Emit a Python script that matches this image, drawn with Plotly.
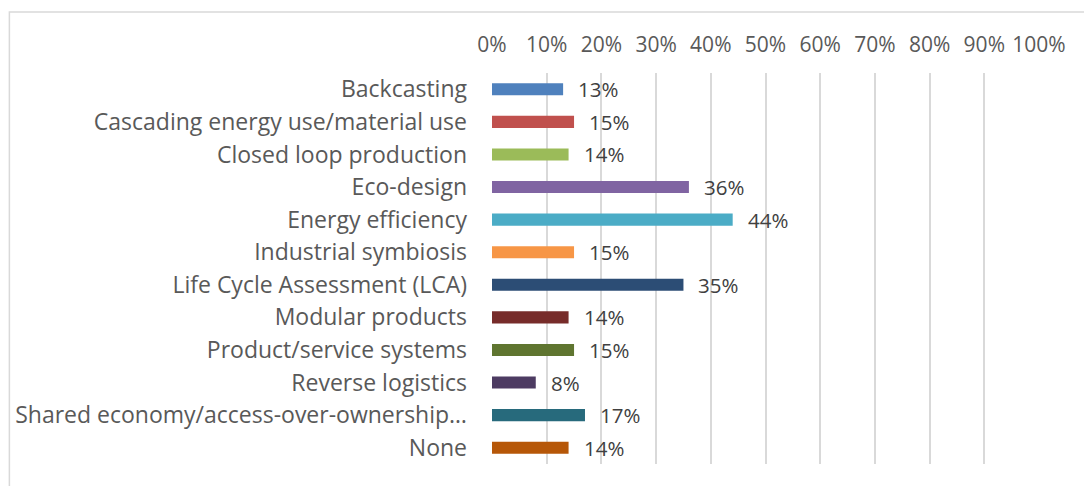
import plotly.graph_objects as go

# Share of respondents using each approach
categories = [
    "Backcasting",
    "Cascading energy use/material use",
    "Closed loop production",
    "Eco-design",
    "Energy efficiency",
    "Industrial symbiosis",
    "Life Cycle Assessment (LCA)",
    "Modular products",
    "Product/service systems",
    "Reverse logistics",
    "Shared economy/access-over-ownership…",
    "None",
]
percent_values = [13, 15, 14, 36, 44, 15, 35, 14, 15, 8, 17, 14]
bar_colors = [
    "#4F81BD", "#C0504D", "#9BBB59", "#8064A2", "#4BACC6", "#F79646",
    "#2C4D75", "#772C2A", "#5F7530", "#4D3B62", "#276A7C", "#B65708",
]
x_tick_values = [i / 10 for i in range(11)]
x_tick_labels = [f"{i * 10}%" for i in range(11)]

FONT = "Open Sans"
W, H = 1084, 486
ML, MR, MT, MB = 491.5, 44.5, 73, 22
plot_w = W - ML - MR
plot_h = H - MT - MB

fig = go.Figure(
    go.Bar(
        x=[v / 100 for v in percent_values],
        y=categories,
        orientation="h",
        marker=dict(color=bar_colors, line=dict(width=0)),
        hoverinfo="skip",
    )
)

# value labels just right of each bar end
for cat, v in zip(categories, percent_values):
    fig.add_annotation(
        x=v / 100, y=cat, text=f"{v}%", showarrow=False,
        xanchor="left", yanchor="middle", xshift=13, yshift=0,
        font=dict(family=FONT, size=20.5, color="#404040"),
    )

# outer chart frame (top and left edges visible)
fig.add_shape(
    type="rect", xref="paper", yref="paper",
    x0=(8 - ML) / plot_w, x1=(W + 40 - ML) / plot_w,
    y0=-(H + 40 - (H - MB)) / plot_h, y1=(H - MB - 12) / plot_h,
    line=dict(color="#D9D9D9", width=1.5), fillcolor="rgba(0,0,0,0)",
    layer="below",
)

fig.update_layout(
    width=W, height=H,
    margin=dict(l=ML, r=MR, t=MT, b=MB, pad=0),
    paper_bgcolor="white", plot_bgcolor="white",
    bargap=0.63,
    showlegend=False,
    xaxis=dict(
        side="top", range=[0, 1],
        tickvals=x_tick_values, ticktext=x_tick_labels,
        showgrid=True, gridcolor="#D9D9D9", gridwidth=1.5,
        zeroline=False, showline=False, ticks="",
        ticklabelstandoff=16,
        tickfont=dict(family=FONT, size=21, color="#595959"),
        fixedrange=True,
    ),
    yaxis=dict(
        autorange="reversed", showgrid=False, zeroline=False,
        showline=False, ticks="", ticklabelstandoff=24,
        tickfont=dict(family=FONT, size=23, color="#595959"),
        fixedrange=True,
    ),
)

fig.write_html("out.html")
